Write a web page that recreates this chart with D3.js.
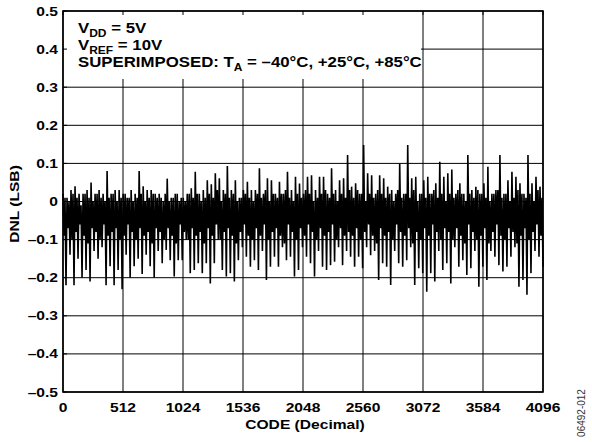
<!DOCTYPE html>
<html><head><meta charset="utf-8">
<script src="https://cdn.jsdelivr.net/npm/d3@7"></script>
<style>html,body{margin:0;padding:0;background:#fff;}svg{display:block;}</style>
</head><body>
<svg id="c" width="592" height="442"></svg>
<script>
// ---- data ----
const xTicks = [0, 512, 1024, 1536, 2048, 2560, 3072, 3584, 4096];
const yTicks = [-0.5, -0.4, -0.3, -0.2, -0.1, 0, 0.1, 0.2, 0.3, 0.4, 0.5];
const yTickLabels = ["–0.5", "–0.4", "–0.3", "–0.2", "–0.1", "0", "0.1", "0.2", "0.3", "0.4", "0.5"];
// DNL trace read across the code range in 5 segments of ~820 codes:
// spike maxima, spike minima, and the upper / lower edge of the dense band
const high1 = [0.02,0.01,0.03,0.04,0.02,0.02,0.03,0.05,0.02,0.03,0.02,0.08,0.02,0.03,0.03,0.02,0.01,0.03,0.02,0.08,0.04,0.03,0.03,0.02];
const low1  = [-0.22,-0.14,-0.22,-0.15,-0.20,-0.18,-0.21,-0.13,-0.15,-0.12,-0.22,-0.17,-0.22,-0.18,-0.23,-0.14,-0.20,-0.17,-0.15,-0.19,-0.14,-0.17,-0.20,-0.13];
const bandHi1 = [0.01,0.00,0.02,0.01,-0.01,0.02,0.01,0.00,0.02,0.01,0.00,0.01,0.02,0.00,0.01,0.02,0.01,0.00,0.01,0.02,0.00,0.01,0.02,0.01];
const bandLo1 = [-0.09,-0.07,-0.10,-0.08,-0.06,-0.09,-0.11,-0.07,-0.08,-0.10,-0.06,-0.09,-0.08,-0.07,-0.10,-0.09,-0.06,-0.08,-0.10,-0.07,-0.09,-0.08,-0.11,-0.07];
const high2 = [0.02,0.00,0.06,0.01,0.02,0.00,0.01,0.02,0.035,0.078,0.02,0.03,0.056,0.045,0.074,0.061,0.03,0.093,0.03,0.056,0.01,0.03,0.052,0.03];
const low2  = [-0.162,-0.127,-0.154,-0.197,-0.154,-0.154,-0.10,-0.188,-0.18,-0.162,-0.188,-0.162,-0.215,-0.162,-0.10,-0.18,-0.197,-0.188,-0.21,-0.154,-0.12,-0.145,-0.171,-0.154];
const bandHi2 = [0.01,0.02,0.00,0.01,0.02,0.01,0.00,0.02,0.01,0.02,0.00,0.01,0.02,0.01,0.03,0.00,0.02,0.01,0.02,0.00,0.01,0.02,0.01,0.00];
const bandLo2 = [-0.08,-0.10,-0.07,-0.09,-0.11,-0.06,-0.08,-0.10,-0.07,-0.09,-0.08,-0.11,-0.07,-0.09,-0.06,-0.10,-0.08,-0.07,-0.09,-0.11,-0.08,-0.06,-0.09,-0.10];
const high3 = [0.03,0.087,0.02,0.061,0.056,0.02,0.052,0.02,0.078,0.03,0.065,0.047,0.02,0.065,0.069,0.03,0.065,0.065,0.02,0.087,0.03,0.056,0.061,0.122];
const low3  = [-0.18,-0.13,-0.206,-0.171,-0.145,-0.171,-0.12,-0.154,-0.145,-0.197,-0.18,-0.12,-0.145,-0.162,-0.197,-0.13,-0.171,-0.18,-0.167,-0.158,-0.12,-0.167,-0.13,-0.145];
const bandHi3 = [0.02,0.01,0.03,0.00,0.02,0.01,0.02,0.03,0.01,0.00,0.02,0.01,0.03,0.02,0.00,0.01,0.02,0.03,0.01,0.02,0.00,0.02,0.01,0.03];
const bandLo3 = [-0.07,-0.09,-0.06,-0.10,-0.08,-0.07,-0.09,-0.11,-0.06,-0.08,-0.10,-0.07,-0.09,-0.06,-0.08,-0.10,-0.07,-0.09,-0.08,-0.06,-0.10,-0.07,-0.09,-0.08];
const high4 = [0.039,0.048,0.02,0.148,0.074,0.069,0.02,0.069,0.061,0.039,0.030,0.02,0.100,0.02,0.148,0.061,0.065,0.02,0.056,0.065,0.02,0.048,0.104,0.065];
const low4  = [-0.171,-0.145,-0.175,-0.12,-0.141,-0.13,-0.206,-0.162,-0.171,-0.219,-0.13,-0.162,-0.171,-0.154,-0.12,-0.219,-0.175,-0.188,-0.237,-0.188,-0.21,-0.13,-0.18,-0.162];
const bandHi4 = [0.01,0.03,0.02,0.00,0.02,0.01,0.03,0.02,0.01,0.02,0.00,0.03,0.01,0.02,0.01,0.03,0.00,0.02,0.01,0.02,0.03,0.01,0.02,0.00];
const bandLo4 = [-0.09,-0.07,-0.10,-0.08,-0.06,-0.09,-0.11,-0.07,-0.09,-0.08,-0.10,-0.06,-0.08,-0.09,-0.07,-0.11,-0.08,-0.10,-0.07,-0.09,-0.06,-0.08,-0.10,-0.07];
const high5 = [0.074,0.084,0.02,0.048,0.02,0.122,0.030,0.039,0.02,0.048,0.091,0.02,0.030,0.122,0.02,0.056,0.078,0.065,0.048,0.02,0.122,0.048,0.065,0.039];
const low5  = [-0.215,-0.12,-0.171,-0.154,-0.193,-0.175,-0.13,-0.224,-0.171,-0.206,-0.13,-0.145,-0.167,-0.184,-0.171,-0.145,-0.12,-0.224,-0.206,-0.245,-0.188,-0.13,-0.145,-0.171];
const bandHi5 = [0.02,0.01,0.03,0.02,0.00,0.02,0.01,0.03,0.02,0.01,0.00,0.02,0.03,0.01,0.02,0.00,0.01,0.03,0.02,0.01,0.02,0.00,0.03,0.01];
const bandLo5 = [-0.08,-0.10,-0.07,-0.09,-0.11,-0.06,-0.08,-0.10,-0.09,-0.07,-0.11,-0.08,-0.06,-0.09,-0.10,-0.07,-0.08,-0.11,-0.09,-0.07,-0.10,-0.08,-0.06,-0.09];

const highs  = [].concat(high1, high2, high3, high4, high5);
const lows   = [].concat(low1, low2, low3, low4, low5);
const bandHi = [].concat(bandHi1, bandHi2, bandHi3, bandHi4, bandHi5);
const bandLo = [].concat(bandLo1, bandLo2, bandLo3, bandLo4, bandLo5);
const dnl = [];
highs.forEach((h, i) => { dnl.push(h, bandLo[i], bandHi[i], lows[i]); });
const maxCode = 4096;
const points = dnl.map((v, i) => ({ code: i * maxCode / (dnl.length - 1), v }));

// ---- layout ----
const L = 63, R = 543, T = 11, B = 392;
const SX = 1.2; // horizontal text stretch
const font = "'Liberation Sans', Arial, Helvetica, sans-serif";

const svg = d3.select("#c");
const x = d3.scaleLinear().domain([0, maxCode]).range([L, R]);
const y = d3.scaleLinear().domain([-0.5, 0.5]).range([B, T]);

// gridlines
svg.append("g").selectAll("line").data(xTicks).join("line")
  .attr("x1", d => x(d)).attr("x2", d => x(d)).attr("y1", T).attr("y2", B)
  .attr("stroke", "#000").attr("stroke-width", 1);
svg.append("g").selectAll("line").data(yTicks).join("line")
  .attr("x1", L).attr("x2", R).attr("y1", d => y(d)).attr("y2", d => y(d))
  .attr("stroke", "#000").attr("stroke-width", 1);

// data trace
const line = d3.line().x(d => x(d.code)).y(d => y(d.v));
svg.append("path").datum(points).attr("d", line)
  .attr("fill", "none").attr("stroke", "#000").attr("stroke-width", 1.6).attr("stroke-linejoin", "bevel");

// annotation box (hides gridlines)
svg.append("rect").attr("x", L + 1).attr("y", T + 1).attr("width", 421 - L - 1).attr("height", 79 - T - 1).attr("fill", "#fff");

// inner ticks
const tl = 4;
svg.append("g").selectAll("line").data(xTicks).join("line")
  .attr("x1", d => x(d)).attr("x2", d => x(d)).attr("y1", T).attr("y2", T + tl)
  .attr("stroke", "#000").attr("stroke-width", 1);
svg.append("g").selectAll("line").data(yTicks).join("line")
  .attr("x1", L).attr("x2", L + tl).attr("y1", d => y(d)).attr("y2", d => y(d))
  .attr("stroke", "#000").attr("stroke-width", 1);

// frame
svg.append("rect").attr("x", L).attr("y", T).attr("width", R - L).attr("height", B - T)
  .attr("fill", "none").attr("stroke", "#000").attr("stroke-width", 1.6);

function txt(tx, ty, str, opt) {
  opt = opt || {};
  return svg.append("text")
    .attr("transform", `translate(${tx},${ty})` + (opt.rot ? ` rotate(${opt.rot})` : "") + ` scale(${opt.sx || SX},1)`)
    .attr("text-anchor", opt.anchor || "middle")
    .attr("font-family", font).attr("font-weight", opt.weight || "bold")
    .attr("font-size", opt.size || 13).attr("fill", opt.fill || "#000")
    .text(str);
}

// y tick labels
yTicks.forEach((t, i) => txt(58, y(t) + 4.5, yTickLabels[i], { anchor: "end" }));
// x tick labels
xTicks.forEach(t => txt(x(t), 412, String(t)));
// axis titles
txt(305, 429, "CODE (Decimal)", { size: 13 });
txt(19, 204, "DNL (LSB)", { size: 13, rot: -90 });
// figure id
txt(585, 413, "06492-012", { size: 10, rot: -90, weight: "normal", sx: 1, fill: "#333" });

// annotation
function annot(ty, parts) {
  const t = svg.append("text")
    .attr("transform", `translate(78,${ty}) scale(${SX},1)`)
    .attr("font-family", font).attr("font-weight", "bold").attr("font-size", 14).attr("fill", "#000");
  let shift = 0;
  parts.forEach(p => {
    const dy = (p.sub ? 3.5 : 0) - shift;
    shift = p.sub ? 3.5 : 0;
    t.append("tspan").attr("dy", dy).attr("font-size", p.sub ? 10 : 14).text(p.s);
  });
}
annot(33, [{ s: "V" }, { s: "DD", sub: true }, { s: " = 5V" }]);
annot(50, [{ s: "V" }, { s: "REF", sub: true }, { s: " = 10V" }]);
annot(67, [{ s: "SUPERIMPOSED: T" }, { s: "A", sub: true }, { s: " = –40°C, +25°C, +85°C" }]);
</script>
</body></html>
